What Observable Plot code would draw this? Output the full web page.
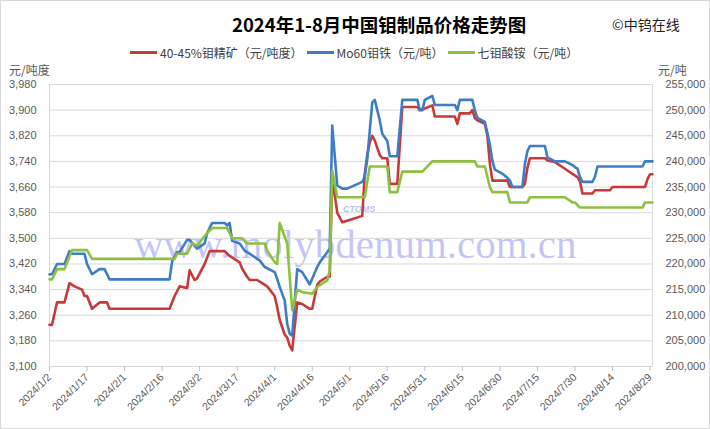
<!DOCTYPE html>
<html>
<head>
<meta charset="utf-8">
<script src="https://cdn.jsdelivr.net/npm/d3@7"></script>
<script src="https://cdn.jsdelivr.net/npm/@observablehq/plot@0.6"></script>
<style>
  body { margin: 0; background: #fff; }
  #wrap { position: relative; width: 710px; height: 429px; overflow: hidden; background: #fff;
          font-family: "Noto Sans CJK SC", "Liberation Sans", sans-serif; }
  #border { position: absolute; left: 0; top: 0; width: 708px; height: 427px; border: 1px solid #d9d9d9; pointer-events: none; }
  #watermark { position: absolute; left: 134px; top: 224px; font-family: "Liberation Serif", "DejaVu Serif", serif;
               font-size: 41px; line-height: 40px; color: rgba(100,100,238,0.38); white-space: nowrap; }
  #logo { position: absolute; left: 343px; top: 204px; font-family: "Liberation Sans", sans-serif; font-style: italic;
          font-weight: bold; font-size: 9px; color: rgba(90,110,220,0.45); }
  #chart { position: absolute; left: 0; top: 0; }
  #title { position: absolute; left: 232px; top: 11px; font-size: 18.5px; font-weight: bold; color: #000;
           white-space: nowrap; line-height: 26px; }
  #credit { position: absolute; left: 612px; top: 14px; font-size: 14px; color: #222; white-space: nowrap; line-height: 20px; }
  #legend { position: absolute; left: 130px; top: 43px; height: 18px; display: flex; align-items: center; gap: 4px;
            font-size: 12px; color: #404040; white-space: nowrap; }
  #legend .item { display: flex; align-items: center; }
  #legend .sw { display: inline-block; width: 27px; height: 3px; margin-right: 3px; }
  .unit { position: absolute; top: 61px; font-size: 12px; color: #595959; line-height: 18px; white-space: nowrap; }
</style>
</head>
<body>
<div id="wrap">
  <div id="watermark">www.molybdenum.com.cn</div>
  <div id="logo">CTOMS</div>
  <div id="chart"></div>
  <div id="title"></div>
  <div id="credit"></div>
  <div id="legend"></div>
  <div class="unit" id="unitL" style="left:9px"></div>
  <div class="unit" id="unitR" style="left:658px"></div>
  <div id="border"></div>
</div>
<script>
// ---------------- data ----------------
const titleText = "2024年1-8月中国钼制品价格走势图";
const creditText = "©中钨在线";
const unitLeft = "元/吨度";
const unitRight = "元/吨";
const seriesNames = ["40-45%钼精矿（元/吨度）", "Mo60钼铁（元/吨）", "七钼酸铵（元/吨）"];

const xTickLabels = ["2024/1/2","2024/1/17","2024/2/1","2024/2/16","2024/3/2","2024/3/17","2024/4/1","2024/4/16",
  "2024/5/1","2024/5/16","2024/5/31","2024/6/15","2024/6/30","2024/7/15","2024/7/30","2024/8/14","2024/8/29"];
const leftTicks = [3100,3180,3260,3340,3420,3500,3580,3660,3740,3820,3900,3980];
const rightTicks = [200000,205000,210000,215000,220000,225000,230000,235000,240000,245000,250000,255000];

// 40-45% molybdenum concentrate (left axis, 元/吨度)
const redDates = ["01-02","01-03","01-05","01-08","01-10","01-12","01-15","01-16","01-17","01-19","01-22","01-25","01-26",
  "02-19","02-21","02-23","02-26","02-27","02-29","03-01","03-04","03-06","03-12","03-14","03-18","03-19","03-21","03-22",
  "03-25","03-27","03-29","04-01","04-02","04-03","04-05","04-06","04-07","04-08","04-10","04-12","04-15","04-16","04-18",
  "04-19","04-22","04-23","04-24","04-26","04-28","04-30","05-06","05-07","05-08","05-09","05-10","05-11","05-13","05-14",
  "05-16","05-17","05-20","05-22","05-28","05-29","05-31","06-03","06-04","06-12","06-13","06-14","06-18","06-19","06-20",
  "06-21","06-24","06-25","06-26","06-27","07-03","07-04","07-09","07-10","07-11","07-12","07-18","07-19","07-22","07-26",
  "07-29","07-31","08-01","08-02","08-06","08-07","08-13","08-14","08-27","08-28","08-29","08-30"];
const redValues = [3230,3230,3300,3300,3360,3350,3340,3320,3320,3280,3300,3300,3280,
  3280,3320,3350,3345,3400,3370,3375,3420,3460,3460,3445,3425,3405,3380,3370,
  3370,3360,3350,3320,3285,3245,3200,3190,3165,3150,3300,3295,3280,3280,3355,
  3365,3380,3380,3690,3580,3550,3555,3570,3700,3760,3800,3820,3805,3760,3750,
  3750,3670,3670,3910,3910,3900,3905,3915,3880,3880,3857,3890,3890,3900,3875,
  3868,3857,3821,3733,3680,3680,3660,3660,3670,3720,3750,3750,3743,3738,3717,
  3701,3691,3678,3640,3640,3650,3650,3660,3660,3685,3700,3700];

// Mo60 ferro-molybdenum (right axis, 元/吨)
const blueDates = ["01-02","01-03","01-05","01-08","01-10","01-11","01-16","01-17","01-19","01-22","01-24","01-26",
  "02-19","02-20","02-22","02-23","02-26","02-27","03-01","03-04","03-05","03-07","03-12","03-13","03-14","03-15","03-18",
  "03-20","03-22","03-25","03-26","03-28","04-01","04-02","04-03","04-05","04-06","04-07","04-08","04-10","04-12","04-15",
  "04-18","04-19","04-22","04-23","04-24","04-26","04-28","04-30","05-06","05-07","05-08","05-09","05-10","05-11","05-13",
  "05-14","05-16","05-17","05-20","05-22","05-28","05-29","05-30","05-31","06-03","06-04","06-12","06-13","06-14","06-19",
  "06-20","06-21","06-24","06-25","06-26","06-27","06-28","07-01","07-03","07-04","07-05","07-09","07-10","07-11","07-12",
  "07-18","07-19","07-22","07-26","07-29","07-30","07-31","08-01","08-02","08-06","08-07","08-08","08-26","08-27","08-30"];
const blueValues = [218000,218000,220000,220000,222500,222000,222000,220000,218000,219000,219000,217000,
  217000,220500,222300,222300,224700,224700,223000,224000,226000,228000,228000,227500,228000,224500,224000,
  222600,222000,221000,220700,219400,218400,217100,215500,212900,208300,206400,206000,219000,218400,216000,
  219400,220300,222300,223000,247000,235300,234700,234700,236000,237000,240500,246000,251500,252000,248000,
  245400,244000,241000,241000,252000,252000,250000,250000,252000,252800,251000,251000,250000,252000,252000,
  250000,248500,247700,245600,243300,240100,238400,237600,236800,236300,235000,235000,239500,242000,243000,
  243000,240800,240000,240000,239300,238900,238600,237000,236000,236000,237000,239000,239000,240000,240000];

// Ammonium heptamolybdate (right axis, 元/吨)
const greenDates = ["01-02","01-03","01-05","01-08","01-11","01-17","01-19","02-21","02-22","02-26","02-28","03-01",
  "03-05","03-07","03-13","03-15","03-19","03-21","03-28","03-29","04-01","04-02","04-03","04-06","04-08","04-10","04-12",
  "04-16","04-18","04-22","04-23","04-24","04-26","05-07","05-09","05-16","05-17","05-20","05-22","05-30","06-03","06-20",
  "06-21","06-24","06-26","06-27","07-03","07-04","07-11","07-12","07-26","07-29","07-30","08-01","08-26","08-27","08-30"];
const greenValues = [217000,217000,219000,219000,222700,222700,221000,221000,222000,222000,224000,223600,
  226000,227000,227000,225000,225000,224000,224000,222600,220300,220000,228000,224000,211000,215000,214500,
  214200,215500,216800,218700,238200,233000,233000,239000,239000,234000,234000,238000,238000,240000,240000,
  239000,239000,235000,234000,234000,232000,232000,233000,233000,232000,232000,231000,231000,232000,232000];

const colors = ["#c8393a", "#3f7cc6", "#8dc041"];

// ---------------- build ----------------
const parseMD = s => { const [m, d] = s.split("-").map(Number); return new Date(Date.UTC(2024, m - 1, d)); };
const parseTick = s => { const [y, m, d] = s.split("/").map(Number); return new Date(Date.UTC(y, m - 1, d)); };
const L0 = leftTicks[0], L1 = leftTicks[leftTicks.length - 1];
const R0 = rightTicks[0], R1 = rightTicks[rightTicks.length - 1];
const rightToLeft = v => L0 + (v - R0) * (L1 - L0) / (R1 - R0);
const leftToRight = v => R0 + (v - L0) * (R1 - R0) / (L1 - L0);

const rows = [];
redDates.forEach((d, i) => rows.push({series: seriesNames[0], date: parseMD(d), y: redValues[i]}));
blueDates.forEach((d, i) => rows.push({series: seriesNames[1], date: parseMD(d), y: rightToLeft(blueValues[i])}));
greenDates.forEach((d, i) => rows.push({series: seriesNames[2], date: parseMD(d), y: rightToLeft(greenValues[i])}));

const xTicks = xTickLabels.map(parseTick);
const fmtTick = d => `${d.getUTCFullYear()}/${d.getUTCMonth() + 1}/${d.getUTCDate()}`;
const comma = d3.format(",");

const chart = Plot.plot({
  width: 710,
  height: 429,
  marginTop: 84,
  marginBottom: 63,
  marginLeft: 49,
  marginRight: 58,
  style: {background: "transparent", fontFamily: "Liberation Sans, Arial, sans-serif", fontSize: "11px", color: "#595959"},
  x: {type: "utc", domain: [parseMD("01-02"), parseMD("08-30")]},
  y: {domain: [L0, L1]},
  color: {domain: seriesNames, range: colors},
  marks: [
    Plot.gridY(leftTicks, {stroke: "#d9d9d9", strokeOpacity: 1}),
    Plot.frame({stroke: "#d9d9d9"}),
    Plot.axisY(leftTicks, {anchor: "left", tickSize: 0, tickPadding: 13, tickFormat: comma, label: null}),
    Plot.axisY(leftTicks, {anchor: "right", tickSize: 0, tickPadding: 13,
      tickFormat: d => comma(Math.round(leftToRight(d))), label: null}),
    Plot.axisX(xTicks, {anchor: "bottom", tickSize: 5, tickPadding: 4, tickRotate: -45, stroke: "#bfbfbf",
      fontSize: 10.5, tickFormat: fmtTick, label: null}),
    Plot.line(rows, {x: "date", y: "y", z: "series", stroke: "series", strokeWidth: 2.6,
      strokeLinejoin: "round", strokeLinecap: "round", curve: "linear"})
  ]
});
document.getElementById("chart").appendChild(chart);

document.getElementById("title").textContent = titleText;
document.getElementById("credit").textContent = creditText;
document.getElementById("unitL").textContent = unitLeft;
document.getElementById("unitR").textContent = unitRight;
const legend = document.getElementById("legend");
seriesNames.forEach((name, i) => {
  const item = document.createElement("span");
  item.className = "item";
  const sw = document.createElement("span");
  sw.className = "sw";
  sw.style.background = colors[i];
  item.appendChild(sw);
  item.appendChild(document.createTextNode(name));
  legend.appendChild(item);
});
</script>
</body>
</html>
